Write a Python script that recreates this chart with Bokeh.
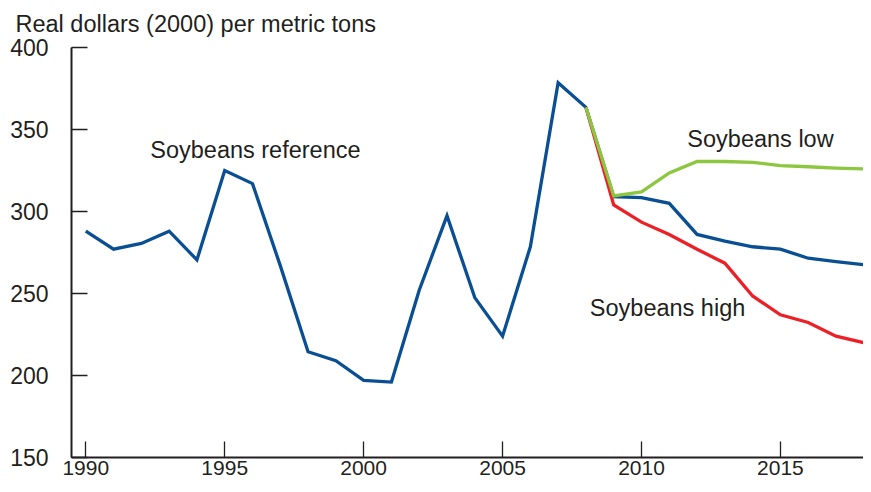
from bokeh.plotting import figure
from bokeh.models import Range1d, Label, FixedTicker
from bokeh.embed import file_html
from bokeh.resources import INLINE

years_ref = list(range(1990, 2019))
soy_reference = [288, 277, 280.5, 288, 270.5, 325, 317, 267, 214.5, 209, 197, 196,
                 252, 297.5, 247.5, 224, 278.5, 378.5, 363.5, 309, 308.5, 305, 286,
                 282, 278.5, 277, 271.5, 269.5, 267.5]
years_scen = list(range(2008, 2019))
soy_low = [363.5, 309.5, 312, 323.5, 330.5, 330.5, 330, 328, 327.3, 326.5, 326]
soy_high = [363.5, 304, 293.5, 286, 277, 268.5, 248.5, 237, 232.3, 224, 220]

x_ticks = [1990, 1995, 2000, 2005, 2010, 2015]
y_ticks = [150, 200, 250, 300, 350, 400]

title_text = "Real dollars (2000) per metric tons"
FONT = "Liberation Sans"
TXT = "#231f20"

p = figure(frame_width=792, frame_height=410, output_backend="svg", toolbar_location=None,
           x_range=Range1d(1989.486, 2017.99), y_range=Range1d(150, 400),
           min_border_left=71, min_border_right=0, min_border_top=47, min_border_bottom=0)
p.outline_line_color = None
p.xgrid.visible = False
p.ygrid.visible = False
p.background_fill_color = "white"
p.border_fill_color = "white"

p.title.text = title_text
p.title.align = "left"
p.title.vertical_align = "top"
p.title.offset = -56
p.title.standoff = 18
p.title.text_font = FONT
p.title.text_font_size = "23.5px"
p.title.text_font_style = "normal"
p.title.text_color = TXT

for ax, ticks in ((p.xaxis[0], x_ticks), (p.yaxis[0], y_ticks)):
    ax.ticker = FixedTicker(ticks=ticks)
    ax.major_tick_in = 16
    ax.major_tick_out = 0
    ax.minor_tick_in = 0
    ax.minor_tick_out = 0
    ax.axis_line_width = 2
    ax.axis_line_color = "#231f20"
    ax.major_tick_line_width = 1.3
    ax.major_tick_line_color = "#231f20"
    ax.major_label_text_font = FONT
    ax.major_label_text_color = TXT
p.xaxis[0].major_label_text_font_size = "21px"
p.yaxis[0].major_label_text_font_size = "23px"
p.xaxis[0].major_label_standoff = 3
p.yaxis[0].major_label_standoff = 23

p.line(years_ref, soy_reference, line_color="#0a4f94", line_width=3.3, line_join="miter")
p.line(years_scen, soy_high, line_color="#ec2027", line_width=3.3, line_join="miter")
p.line(years_scen, soy_low, line_color="#8dc63f", line_width=3.3, line_join="miter")

for txt, x, y in (("Soybeans reference", 1992.32, 337.4),
                  ("Soybeans low", 2011.65, 344.5),
                  ("Soybeans high", 2008.14, 240.9)):
    p.add_layout(Label(x=x, y=y, text=txt, text_font=FONT, text_font_size="23.5px",
                       text_color=TXT, text_baseline="alphabetic", text_align="left"))

open("out.html", "w").write(file_html(p, INLINE))
